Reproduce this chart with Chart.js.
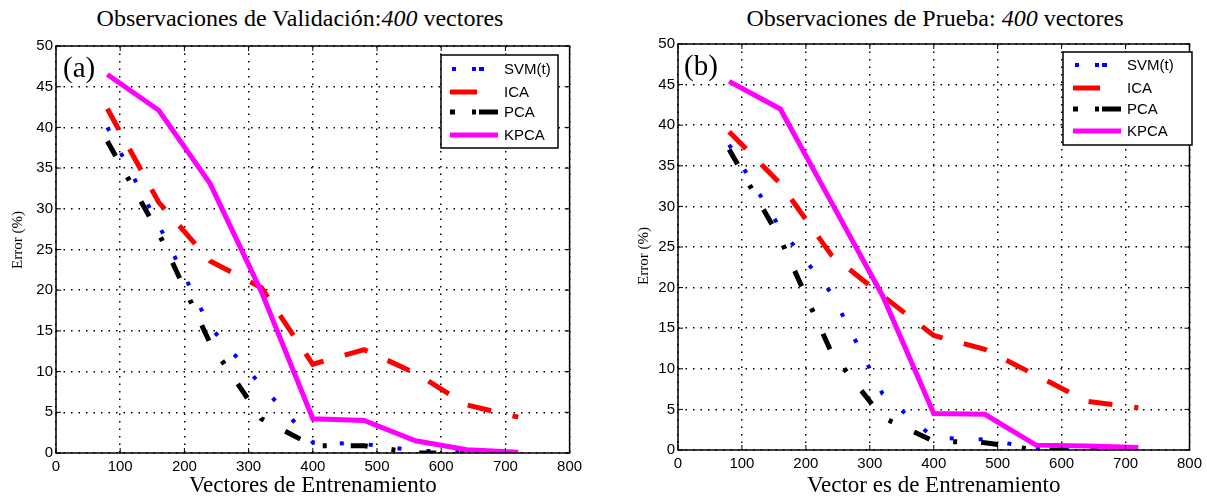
<!DOCTYPE html>
<html>
<head>
<meta charset="utf-8">
<script src="https://cdn.jsdelivr.net/npm/chart.js@4.4.0/dist/chart.umd.min.js"></script>
<style>
    body { margin: 0; background: #fff; width: 1207px; height: 498px; overflow: hidden; position: relative; }
    .panel { position: absolute; top: 0; width: 600px; height: 498px; }
    .title { position: absolute; top: 5px; font-family: "Liberation Serif", serif; font-size: 24px; white-space: nowrap; transform: translateX(-50%); color: #000; }
</style>
</head>
<body>
<div class="title" style="left:300px">Observaciones de Validación:<i>400</i> vectores</div>
<div class="title" style="left:935px">Observaciones de Prueba: <i>400</i> vectores</div>
<div class="panel" style="left:0"><canvas id="chartA"></canvas></div>
<div class="panel" style="left:607px"><canvas id="chartB"></canvas></div>
<script>
// Error (%) vs. número de vectores de entrenamiento, dos paneles: validación (a) y prueba (b)
const trainVectors = [80, 160, 240, 320, 400, 480, 560, 640, 720];

// (a) validación
const svmValidation  = [40.0, 28.0, 15.5, 8.3, 1.3, 1.1, 0.3, 0.1, 0.0];
const icaValidation  = [42.3, 30.8, 23.6, 20.3, 10.9, 12.7, 9.8, 5.9, 4.4];
const pcaValidation  = [38.3, 27.0, 13.5, 4.2, 0.9, 0.9, 0.0, 0.0, 0.0];
const kpcaValidation = [46.5, 42.1, 33.1, 19.8, 4.2, 4.0, 1.5, 0.4, 0.1];

// (b) prueba
const svmTest  = [37.6, 27.3, 19.3, 6.9, 1.5, 1.3, 0.2, 0.0, 0.0];
const icaTest  = [39.2, 32.8, 24.0, 19.0, 14.1, 12.4, 9.2, 6.0, 5.2];
const pcaTest  = [37.0, 26.0, 12.0, 4.0, 1.1, 0.9, 0.0, 0.0, 0.0];
const kpcaTest = [45.4, 42.0, 30.5, 19.0, 4.5, 4.4, 0.6, 0.5, 0.3];

const seriesLabels = ["SVM(t)", "ICA", "PCA", "KPCA"];

// estilo de cada serie (tipo MATLAB): punteado azul, guiones rojos, guion-punto negro, sólido magenta
const SERIES_STYLES = [
    { color: "#0000FF", width: 4, dash: [4, 25], legendDash: [4, 16, 4, 3, 5, 100], legendStart: 2, legendLen: 34 },
    { color: "#FF0000", width: 5, dash: [24, 22], legendDash: [], legendStart: 0, legendLen: 27 },
    { color: "#000000", width: 5, dash: [17, 24, 4, 24], legendDash: [5, 17, 4, 3, 19], legendStart: 0, legendLen: 48 },
    { color: "#FF00FF", width: 5, dash: [], legendDash: [], legendStart: 0, legendLen: 48 }
];

const TICK_FONT = { family: "'Liberation Sans', Arial, sans-serif", size: 15 };
const SERIF = "'Liberation Serif', 'Times New Roman', serif";

// marco, marcas interiores, etiqueta del panel, título del eje y y leyenda
const framePlugin = {
    id: "matlabFrame",
    afterDatasetsDraw(chart, args, opts) {
        const { ctx, chartArea: area, scales } = chart;
        ctx.save();

        ctx.strokeStyle = "#000";
        ctx.lineWidth = 1.5;
        ctx.setLineDash([]);
        ctx.strokeRect(area.left, area.top, area.right - area.left, area.bottom - area.top);

        ctx.lineWidth = 1;
        ctx.beginPath();
        scales.x.ticks.forEach((t) => {
            const px = scales.x.getPixelForValue(t.value);
            ctx.moveTo(px, area.bottom); ctx.lineTo(px, area.bottom - 5);
            ctx.moveTo(px, area.top); ctx.lineTo(px, area.top + 5);
        });
        scales.y.ticks.forEach((t) => {
            const py = scales.y.getPixelForValue(t.value);
            ctx.moveTo(area.left, py); ctx.lineTo(area.left + 5, py);
            ctx.moveTo(area.right, py); ctx.lineTo(area.right - 5, py);
        });
        ctx.stroke();

        ctx.fillStyle = "#000";
        ctx.font = `29px ${SERIF}`;
        ctx.textBaseline = "top";
        ctx.textAlign = "left";
        ctx.fillText(opts.panelLabel, area.left + opts.labelDx, area.top + 9);

        // título del eje y, girado
        ctx.save();
        ctx.translate(opts.yTitleX, opts.yTitleY);
        ctx.rotate(-Math.PI / 2);
        ctx.font = `15px ${SERIF}`;
        ctx.textAlign = "center";
        ctx.textBaseline = "middle";
        ctx.fillText("Error (%)", 0, 0);
        ctx.restore();

        const box = opts.legendBox;
        ctx.fillStyle = "#fff";
        ctx.fillRect(box.x, box.y, box.w, box.h);
        ctx.lineWidth = 1.5;
        ctx.strokeStyle = "#000";
        ctx.strokeRect(box.x, box.y, box.w, box.h);

        ctx.font = `15px ${TICK_FONT.family}`;
        ctx.textBaseline = "middle";
        ctx.textAlign = "left";
        seriesLabels.forEach((label, i) => {
            const st = SERIES_STYLES[i];
            const y = box.y + opts.legendRows[i];
            const x0 = box.x + opts.sampleDx + st.legendStart;
            ctx.strokeStyle = st.color;
            ctx.lineWidth = st.width;
            ctx.lineCap = "butt";
            ctx.setLineDash(st.legendDash);
            ctx.beginPath();
            ctx.moveTo(x0, y);
            ctx.lineTo(x0 + st.legendLen, y);
            ctx.stroke();
            ctx.setLineDash([]);
            ctx.fillStyle = "#000";
            ctx.fillText(label, box.x + opts.textDx, y + 1);
        });
        ctx.restore();
    }
};

function buildDatasets(seriesValues) {
    return seriesValues.map((values, i) => ({
        label: seriesLabels[i],
        data: trainVectors.map((x, j) => ({ x: x, y: values[j] })),
        borderColor: SERIES_STYLES[i].color,
        borderWidth: SERIES_STYLES[i].width,
        borderDash: SERIES_STYLES[i].dash,
        borderCapStyle: "butt",
        borderJoinStyle: "miter",
        pointRadius: 0,
        tension: 0,
        fill: false,
        order: 4 - i
    }));
}

function makeChart(canvasId, seriesValues, layout) {
    return new Chart(document.getElementById(canvasId), {
        type: "line",
        data: { datasets: buildDatasets(seriesValues) },
        plugins: [framePlugin],
        options: {
            responsive: true,
            maintainAspectRatio: false,
            animation: false,
            events: [],
            layout: { padding: { left: 0, right: layout.padRight, top: layout.padTop, bottom: 0 } },
            plugins: {
                legend: { display: false },
                tooltip: { enabled: false },
                matlabFrame: layout.frame
            },
            scales: {
                x: {
                    type: "linear", min: 0, max: 800,
                    ticks: { stepSize: 100, color: "#000", font: TICK_FONT, padding: 5, maxRotation: 0 },
                    grid: { color: "#000", lineWidth: 1.5, drawTicks: false },
                    border: { display: false, dash: [1.5, 6] },
                    title: { display: true, text: layout.xTitle, color: "#000", font: { family: SERIF, size: 23 }, padding: { top: 0, bottom: -2 } },
                    afterFit: (scale) => { scale.height = layout.xAxisH; }
                },
                y: {
                    type: "linear", min: 0, max: 50,
                    ticks: { stepSize: 5, color: "#000", font: TICK_FONT, padding: 3 },
                    grid: { color: "#000", lineWidth: 1.5, drawTicks: false },
                    border: { display: false, dash: [1.5, 6] },
                    afterFit: (scale) => { scale.width = layout.yAxisW; }
                }
            }
        }
    });
}

makeChart("chartA", [svmValidation, icaValidation, pcaValidation, kpcaValidation], {
    padRight: 30.4, padTop: 46, xAxisH: 45, yAxisW: 56,
    xTitle: "Vectores de Entrenamiento",
    frame: {
        panelLabel: "(a)", labelDx: 7, yTitleX: 18, yTitleY: 240,
        legendBox: { x: 441, y: 55, w: 117, h: 93 },
        legendRows: [14, 37, 57, 80], sampleDx: 9, textDx: 63
    }
});

makeChart("chartB", [svmTest, icaTest, pcaTest, kpcaTest], {
    padRight: 15.4, padTop: 44, xAxisH: 48, yAxisW: 71,
    xTitle: "Vector es de Entrenamiento",
    frame: {
        panelLabel: "(b)", labelDx: 6, yTitleX: 37, yTitleY: 256,
        legendBox: { x: 456, y: 52, w: 129, h: 93 },
        legendRows: [13, 36, 57, 79], sampleDx: 10, textDx: 64
    }
});
</script>
</body>
</html>
